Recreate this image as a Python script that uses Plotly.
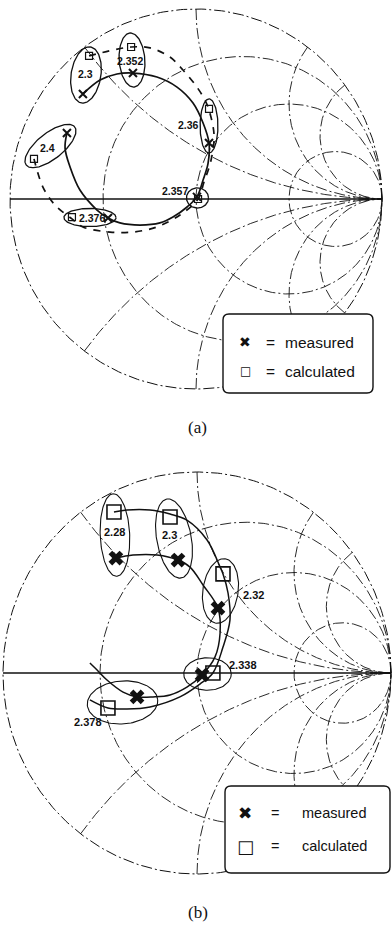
import numpy as np
import plotly.graph_objects as go

# ---------------- data: reflection coefficient Γ (re, im) ----------
# panel (a)
A_LABELS = ["2.3", "2.352", "2.36", "2.357", "2.376", "2.4"]
A_MEAS_RE = [-0.608, -0.339, 0.070, 0.005, -0.473, -0.694]
A_MEAS_IM = [0.553, 0.663, 0.295, 0.011, -0.100, 0.347]
A_CALC_RE = [-0.575, -0.349, 0.070, 0.011, -0.667, -0.871]
A_CALC_IM = [0.753, 0.800, 0.474, 0.000, -0.095, 0.211]
A_MEAS_CURVE_RE = [-0.608, -0.516, -0.425, -0.339, -0.210, -0.102, -0.016, 0.038, 0.070, 0.065, 0.038,
                   0.005, -0.048, -0.124, -0.194, -0.301, -0.409, -0.473, -0.532, -0.624, -0.677, -0.704, -0.694]
A_MEAS_CURVE_IM = [0.553, 0.626, 0.658, 0.663, 0.642, 0.589, 0.505, 0.400, 0.295, 0.189, 0.100,
                   0.011, -0.042, -0.095, -0.126, -0.137, -0.126, -0.100, -0.058, 0.047, 0.168, 0.268, 0.347]
A_CALC_CURVE_RE = [-0.575, -0.516, -0.446, -0.349, -0.247, -0.140, -0.070, 0.005, 0.048, 0.070, 0.097,
                   0.081, 0.043, 0.011, -0.086, -0.210, -0.339, -0.462, -0.608, -0.667, -0.758, -0.823, -0.871]
A_CALC_CURVE_IM = [0.753, 0.768, 0.784, 0.800, 0.795, 0.747, 0.679, 0.589, 0.521, 0.468, 0.337,
                   0.205, 0.089, 0.000, -0.084, -0.147, -0.174, -0.174, -0.147, -0.105, -0.032, 0.063, 0.211]

# panel (b)
B_LABELS = ["2.28", "2.3", "2.32", "2.338", "2.378"]
B_MEAS_RE = [-0.418, -0.098, 0.108, 0.026, -0.309]
B_MEAS_IM = [0.572, 0.562, 0.323, -0.010, -0.119]
B_CALC_RE = [-0.428, -0.139, 0.134, 0.082, -0.459]
B_CALC_IM = [0.801, 0.776, 0.493, 0.000, -0.174]
B_MEAS_CURVE_RE = [-0.418, -0.330, -0.206, -0.098, -0.036, 0.031, 0.108, 0.119, 0.093, 0.026, -0.052,
                   -0.139, -0.227, -0.309, -0.381, -0.464, -0.515, -0.552]
B_MEAS_CURVE_IM = [0.572, 0.587, 0.587, 0.562, 0.527, 0.438, 0.323, 0.199, 0.080, -0.010, -0.070,
                   -0.109, -0.119, -0.119, -0.095, -0.035, 0.015, 0.050]
B_CALC_CURVE_RE = [-0.428, -0.361, -0.242, -0.139, -0.052, 0.052, 0.119, 0.134, 0.160, 0.170, 0.134,
                   0.082, 0.015, -0.088, -0.242, -0.361, -0.459, -0.552]
B_CALC_CURVE_IM = [0.801, 0.811, 0.811, 0.791, 0.761, 0.662, 0.527, 0.493, 0.398, 0.264, 0.129,
                   0.000, -0.055, -0.119, -0.169, -0.179, -0.174, -0.134]

# Smith chart grid values (normalised resistance / reactance)
GRID_R = [1 / 3, 1, 3]
GRID_X = [0.5, 1, 2, 3]

LEGEND_TEXT = ["measured", "calculated"]
CAPTIONS = ["(a)", "(b)"]

# ---------------- styles ----------------
W, H = 392, 925
INK = "#111111"
GRID_DASH = "11px,3px,2px,3px"

# label pixel shifts (x right, y up) relative to the pair midpoint
A_LABEL_SHIFT = [(0, 1), (-2, -1), (-21, 1), (-22, 7), (2, 0), (-3, -2)]
B_LABEL_SHIFT = [(0, 3), (-5, 4), (33, -4), (36, 9), (-35, -20)]
# ellipse padding along the pair, half-width (Γ units), optional fixed tilt (deg)
A_ELL_PAD = [0.048, 0.074, 0.053, 0.053, 0.043, 0.053]
A_ELL_MIN = [0.080, 0.069, 0.048, 0.053, 0.048, 0.069]
A_ELL_TILT = [None, None, None, 0, 0, None]
B_ELL_PAD = [0.091, 0.091, 0.076, 0.094, 0.102]
B_ELL_MIN = [0.076, 0.089, 0.091, 0.081, 0.107]
B_ELL_TILT = [None, None, None, 0, 4]

fig = go.Figure()


def add_grid(xa, ya):
    t = np.linspace(0, 2 * np.pi, 400)
    fig.add_trace(go.Scatter(x=np.cos(t), y=np.sin(t), mode="lines", xaxis=xa, yaxis=ya,
                             line=dict(color=INK, width=1.0, dash=GRID_DASH), hoverinfo="skip"))
    rr = np.concatenate([[0.0], np.geomspace(1e-3, 1e4, 50)])
    fig.add_trace(go.Scatter(x=(rr - 1) / (rr + 1), y=0 * rr, mode="lines", xaxis=xa, yaxis=ya,
                             line=dict(color=INK, width=1.3), hoverinfo="skip"))
    for r in GRID_R:
        c, rho = r / (1 + r), 1 / (1 + r)
        fig.add_trace(go.Scatter(x=c + rho * np.cos(t), y=rho * np.sin(t), mode="lines",
                                 xaxis=xa, yaxis=ya,
                                 line=dict(color=INK, width=0.9, dash=GRID_DASH), hoverinfo="skip"))
    rs = np.tan(np.linspace(0, np.pi / 2 - 1e-4, 400))
    for xv in GRID_X:
        for s in (1, -1):
            z = rs + 1j * s * xv
            g = (z - 1) / (z + 1)
            fig.add_trace(go.Scatter(x=g.real, y=g.imag, mode="lines", xaxis=xa, yaxis=ya,
                                     line=dict(color=INK, width=0.9, dash=GRID_DASH),
                                     hoverinfo="skip"))


def add_ellipses(xa, ya, mre, mim, cre, cim, pads, mins, tilts, width):
    t = np.linspace(0, 2 * np.pi, 120)
    for i in range(len(mre)):
        cx, cy = (mre[i] + cre[i]) / 2, (mim[i] + cim[i]) / 2
        dx, dy = cre[i] - mre[i], cim[i] - mim[i]
        d = np.hypot(dx, dy)
        if tilts[i] is not None:
            ang = np.radians(tilts[i])
        else:
            ang = np.arctan2(dy, dx)
        a, b = d / 2 + pads[i], mins[i]
        ex = a * np.cos(t)
        ey = b * np.sin(t)
        fig.add_trace(go.Scatter(x=cx + ex * np.cos(ang) - ey * np.sin(ang),
                                 y=cy + ex * np.sin(ang) + ey * np.cos(ang),
                                 mode="lines", xaxis=xa, yaxis=ya,
                                 line=dict(color=INK, width=width), hoverinfo="skip"))


def add_labels(xref, yref, labels, mre, mim, cre, cim, shifts, size):
    for i, lab in enumerate(labels):
        fig.add_annotation(x=(mre[i] + cre[i]) / 2, y=(mim[i] + cim[i]) / 2, xref=xref, yref=yref,
                           text=lab, showarrow=False, xshift=shifts[i][0], yshift=shifts[i][1],
                           font=dict(family="Liberation Sans, Arial", size=size, color=INK,
                                     weight="bold"))


# ---------------- panel (a) ----------------
add_grid("x", "y")
add_ellipses("x", "y", A_MEAS_RE, A_MEAS_IM, A_CALC_RE, A_CALC_IM, A_ELL_PAD, A_ELL_MIN,
             A_ELL_TILT, 1.3)
fig.add_trace(go.Scatter(x=A_MEAS_CURVE_RE, y=A_MEAS_CURVE_IM, mode="lines", xaxis="x", yaxis="y",
                         line=dict(color=INK, width=1.7, shape="spline", smoothing=1.0),
                         hoverinfo="skip"))
fig.add_trace(go.Scatter(x=A_CALC_CURVE_RE, y=A_CALC_CURVE_IM, mode="lines", xaxis="x", yaxis="y",
                         line=dict(color=INK, width=1.7, dash="7px,7px", shape="spline",
                                   smoothing=1.0), hoverinfo="skip"))
fig.add_trace(go.Scatter(x=A_MEAS_RE, y=A_MEAS_IM, mode="markers", xaxis="x", yaxis="y",
                         marker=dict(symbol="x-thin", size=8, line=dict(color=INK, width=2)),
                         name="measured"))
fig.add_trace(go.Scatter(x=A_CALC_RE, y=A_CALC_IM, mode="markers", xaxis="x", yaxis="y",
                         marker=dict(symbol="square-open", size=7, color=INK,
                                     line=dict(color=INK, width=1.2)),
                         name="calculated"))
add_labels("x", "y", A_LABELS, A_MEAS_RE, A_MEAS_IM, A_CALC_RE, A_CALC_IM, A_LABEL_SHIFT, 10.5)

# ---------------- panel (b) ----------------
add_grid("x2", "y2")
add_ellipses("x2", "y2", B_MEAS_RE, B_MEAS_IM, B_CALC_RE, B_CALC_IM, B_ELL_PAD, B_ELL_MIN,
             B_ELL_TILT, 1.1)
for cre_, cim_ in ((B_MEAS_CURVE_RE, B_MEAS_CURVE_IM), (B_CALC_CURVE_RE, B_CALC_CURVE_IM)):
    fig.add_trace(go.Scatter(x=cre_, y=cim_, mode="lines", xaxis="x2", yaxis="y2",
                             line=dict(color=INK, width=1.5, shape="spline", smoothing=1.0),
                             hoverinfo="skip"))
fig.add_trace(go.Scatter(x=B_MEAS_RE, y=B_MEAS_IM, mode="markers", xaxis="x2", yaxis="y2",
                         marker=dict(symbol="x", size=13, color=INK, line=dict(width=0)),
                         name="measured"))
fig.add_trace(go.Scatter(x=B_CALC_RE, y=B_CALC_IM, mode="markers", xaxis="x2", yaxis="y2",
                         marker=dict(symbol="square-open", size=14, color=INK,
                                     line=dict(color=INK, width=1.6)),
                         name="calculated"))
add_labels("x2", "y2", B_LABELS, B_MEAS_RE, B_MEAS_IM, B_CALC_RE, B_CALC_IM, B_LABEL_SHIFT, 11)


# ---------------- legend boxes (rounded) + captions ----------------
def px(xp):
    return xp / W


def py(yp):
    return 1 - yp / H


def rounded_box(x0, y0, x1, y1, r=6):
    rx, ry = r / W, r / H
    X0, X1, Y0, Y1 = px(x0), px(x1), py(y0), py(y1)
    return (f"M {X0 + rx},{Y0} L {X1 - rx},{Y0} Q {X1},{Y0} {X1},{Y0 - ry} "
            f"L {X1},{Y1 + ry} Q {X1},{Y1} {X1 - rx},{Y1} L {X0 + rx},{Y1} "
            f"Q {X0},{Y1} {X0},{Y1 + ry} L {X0},{Y0 - ry} Q {X0},{Y0} {X0 + rx},{Y0} Z")


LEG = [
    dict(box=(223, 314, 373, 393), sx=245, ex=270, tx=283, ys=(342, 371), xs=14, ss=12, ts=15.5),
    dict(box=(225, 786, 390, 873), sx=245, ex=275, tx=300, ys=(813, 846), xs=17, ss=18, ts=14.5),
]
shapes = []
for L in LEG:
    shapes.append(dict(type="path", xref="paper", yref="paper", path=rounded_box(*L["box"]),
                       line=dict(color=INK, width=1.4), fillcolor="white", layer="above"))
    for k, (sym, ssize) in enumerate((("✖", L["xs"]), ("□", L["ss"]))):
        fig.add_annotation(x=px(L["sx"]), y=py(L["ys"][k]), xref="paper", yref="paper",
                           text=sym, showarrow=False, xanchor="center", yanchor="middle",
                           font=dict(family="DejaVu Sans", size=ssize, color=INK))
        fig.add_annotation(x=px(L["ex"]), y=py(L["ys"][k]), xref="paper", yref="paper",
                           text="=", showarrow=False, xanchor="center", yanchor="middle",
                           font=dict(family="Liberation Sans, Arial", size=L["ts"], color=INK))
        fig.add_annotation(x=px(L["tx"]), y=py(L["ys"][k]), xref="paper", yref="paper",
                           text=LEGEND_TEXT[k], showarrow=False, xanchor="left", yanchor="middle",
                           font=dict(family="Liberation Sans, Arial", size=L["ts"], color=INK))

for cap, (cx, cy) in zip(CAPTIONS, ((197, 428), (198, 912))):
    fig.add_annotation(x=px(cx), y=py(cy), xref="paper", yref="paper", text=cap, showarrow=False,
                       xanchor="center", yanchor="middle",
                       font=dict(family="Liberation Serif, Times New Roman", size=17, color=INK))

A_CX, A_CY, A_RX, A_RY = 196, 199, 186, 190
B_CX, B_CY, B_RX, B_RY = 197, 673, 194, 201
ax_common = dict(visible=False, showgrid=False, zeroline=False, fixedrange=True)
fig.update_layout(
    width=W, height=H, autosize=False,
    margin=dict(l=0, r=0, t=0, b=0),
    paper_bgcolor="white", plot_bgcolor="rgba(0,0,0,0)",
    showlegend=False,
    xaxis=dict(domain=[0, 1], range=[-A_CX / A_RX, (W - A_CX) / A_RX], **ax_common),
    yaxis=dict(domain=[0, 1], range=[(A_CY - H) / A_RY, A_CY / A_RY], **ax_common),
    xaxis2=dict(domain=[0, 1], range=[-B_CX / B_RX, (W - B_CX) / B_RX], overlaying="x",
                anchor="y2", **ax_common),
    yaxis2=dict(domain=[0, 1], range=[(B_CY - H) / B_RY, B_CY / B_RY], overlaying="y",
                anchor="x2", **ax_common),
    shapes=shapes,
)

fig.write_html("out.html", config={"displayModeBar": False},
               post_script="document.body.style.margin='0';document.body.style.overflow='hidden';")
